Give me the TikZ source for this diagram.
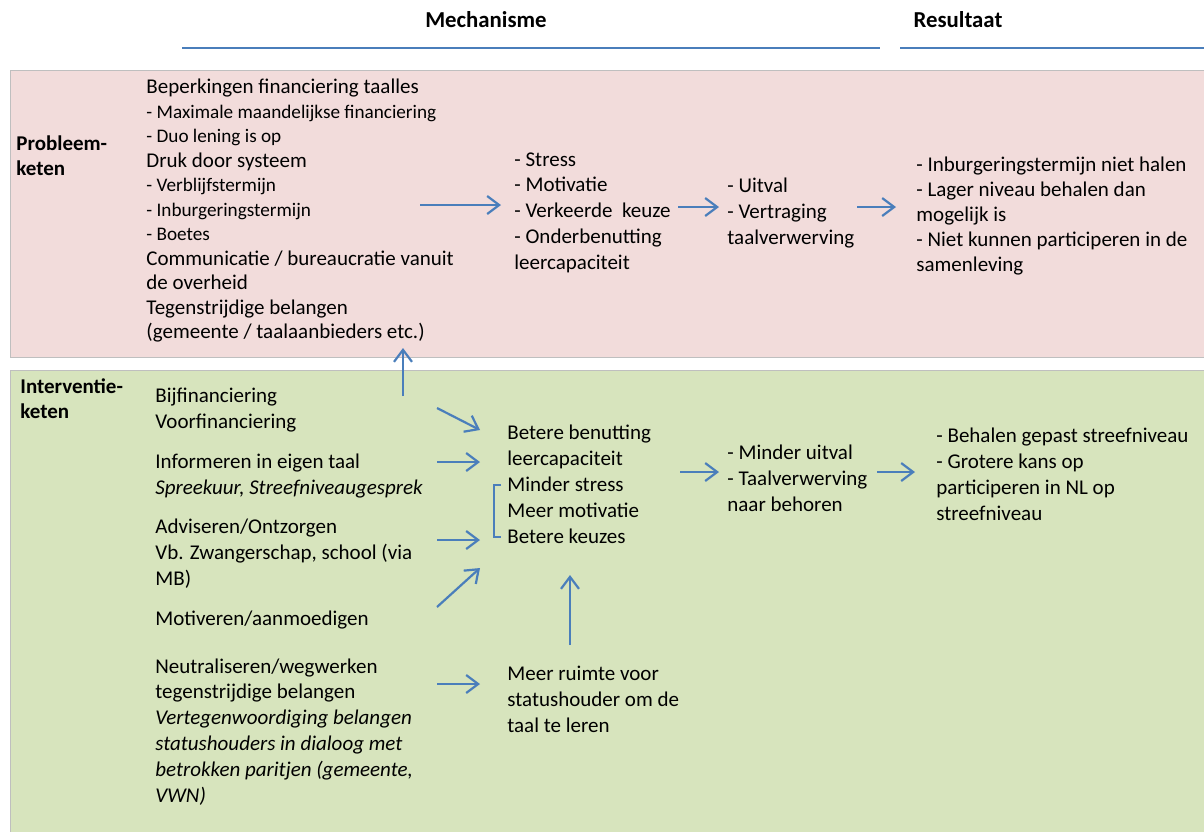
\documentclass[tikz,border=0pt]{standalone}
\usepackage{fontspec}
\setmainfont{Carlito}
\usetikzlibrary{arrows.meta}
\definecolor{probleemroze}{HTML}{F2DCDB}
\definecolor{interventiegroen}{HTML}{D7E4BD}
\definecolor{randgrijs}{HTML}{BFBFBF}
\definecolor{pijlblauw}{HTML}{4A7EBB}
\newcommand\klein{\fontsize{9.6}{12.25}\selectfont}

\begin{document}
\begin{tikzpicture}[x=0.5pt,y=-0.5pt]

\tikzset{txt/.style = {anchor=north west, inner sep=0, align=left, font=\fontsize{10.5}{12.9}\selectfont}}
\tikzset{kop/.style = {inner sep=0, font=\bfseries\fontsize{11.4}{13}\selectfont}}
\tikzset{keten/.style = {txt, font=\bfseries\fontsize{10.5}{12.5}\selectfont}}
\tikzset{arrow/.style = {draw=pijlblauw, line width=1.1pt, -{Straight Barb[length=6pt,width=9pt]}}}
\tikzset{lijn/.style = {draw=pijlblauw, line width=1.1pt}}

\useasboundingbox (0,0) rectangle (1204,832);

%achtergrond
\fill[probleemroze] (10,70) rectangle (1204,357);
\draw[randgrijs] (1204,70) -- (10,70) -- (10,357) -- (1204,357);
\fill[interventiegroen] (10,370) rectangle (1204,832);
\draw[randgrijs] (1204,370) -- (10,370) -- (10,832);

%kopjes
\node[kop] (mech) at (486,20) {Mechanisme};
\node[kop] (res) at (958,20) {Resultaat};
\draw[lijn] (182,48) -- (880,48);
\draw[lijn] (900,48) -- (1204,48);

%probleemketen
\node[keten] (probleem) at (16,135) {Probleem-\\keten};
\node[txt, font=\fontsize{10.5}{12.25}\selectfont] (oorzaak) at (146,79)
  {Beperkingen financiering taalles\\
   {\klein - Maximale maandelijkse financiering}\\
   {\klein - Duo lening is op}\\
   Druk door systeem\\
   {\klein - Verblijfstermijn}\\
   {\klein - Inburgeringstermijn}\\
   {\klein - Boetes}\\
   Communicatie / bureaucratie vanuit\\
   de overheid\\
   Tegenstrijdige belangen\\
   (gemeente / taalaanbieders etc.)};
\node[txt] (stress) at (514,152)
  {- Stress\\ - Motivatie\\ - Verkeerde~ keuze\\ - Onderbenutting\\ leercapaciteit};
\node[txt] (uitval) at (727,178) {- Uitval\\ - Vertraging\\ taalverwerving};
\node[txt, font=\fontsize{10.5}{12.4}\selectfont] (halen) at (916,157)
  {- Inburgeringstermijn niet halen\\ - Lager niveau behalen dan\\ mogelijk is\\
   - Niet kunnen participeren in de\\ samenleving};

%interventieketen
\node[keten] (interventie) at (20,378) {Interventie-\\keten};
\node[txt] (bijfin) at (155,388) {Bijfinanciering\\ Voorfinanciering};
\node[txt] (info) at (155,454) {Informeren in eigen taal\\ \textit{Spreekuur, Streefniveaugesprek}};
\node[txt] (advies) at (155,519) {Adviseren/Ontzorgen\\ Vb. Zwangerschap, school (via\\ MB)};
\node[txt] (motiv) at (155,611) {Motiveren/aanmoedigen};
\node[txt] (neutraal) at (155,658)
  {Neutraliseren/wegwerken\\ tegenstrijdige belangen\\
   \textit{Vertegenwoordiging belangen}\\ \textit{statushouders in dialoog met}\\
   \textit{betrokken paritjen (gemeente,}\\ \textit{VWN)}};
\node[txt] (beter) at (507,425)
  {Betere benutting\\ leercapaciteit\\ Minder stress\\ Meer motivatie\\ Betere keuzes};
\node[txt] (ruimte) at (507,666) {Meer ruimte voor\\ statushouder om de\\ taal te leren};
\node[txt] (minder) at (727,445) {- Minder uitval\\ - Taalverwerving\\ naar behoren};
\node[txt] (behalen) at (936,428)
  {- Behalen gepast streefniveau\\ - Grotere kans op\\ participeren in NL op\\ streefniveau};

%pijlpunten
\coordinate (p1a) at (420,205); \coordinate (p1b) at (501,205);
\coordinate (p2a) at (678,207); \coordinate (p2b) at (719,207);
\coordinate (p3a) at (857,207); \coordinate (p3b) at (896,207);
\coordinate (opa) at (403,396); \coordinate (opb) at (403,348);
\coordinate (i1a) at (437,408); \coordinate (i1b) at (480,430);
\coordinate (i2a) at (437,462); \coordinate (i2b) at (480,462);
\coordinate (i3a) at (437,540); \coordinate (i3b) at (480,540);
\coordinate (i4a) at (437,607); \coordinate (i4b) at (480,568);
\coordinate (i5a) at (437,684); \coordinate (i5b) at (480,684);
\coordinate (rua) at (570,645); \coordinate (rub) at (570,575);
\coordinate (m1a) at (680,472); \coordinate (m1b) at (719,472);
\coordinate (m2a) at (877,472); \coordinate (m2b) at (915,472);

%pijlen
\draw[arrow] (p1a) -- (p1b);
\draw[arrow] (p2a) -- (p2b);
\draw[arrow] (p3a) -- (p3b);
\draw[arrow] (opa) -- (opb);
\draw[arrow] (i1a) -- (i1b);
\draw[arrow] (i2a) -- (i2b);
\draw[arrow] (i3a) -- (i3b);
\draw[arrow] (i4a) -- (i4b);
\draw[arrow] (i5a) -- (i5b);
\draw[arrow] (rua) -- (rub);
\draw[arrow] (m1a) -- (m1b);
\draw[arrow] (m2a) -- (m2b);

%accolade
\draw[pijlblauw, line width=0.8pt] (501,485) -- (494,485) -- (494,537) -- (501,537);

\end{tikzpicture}
\end{document}
